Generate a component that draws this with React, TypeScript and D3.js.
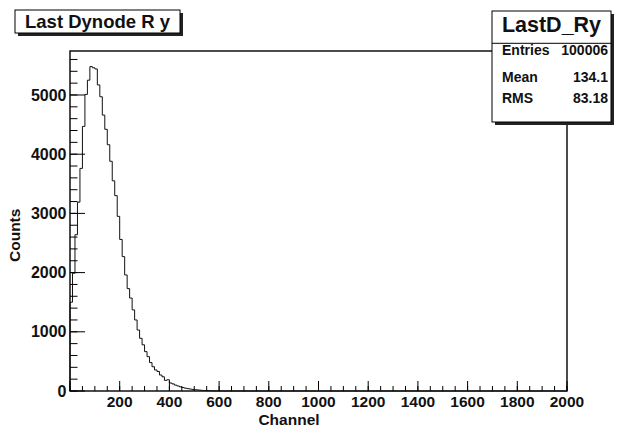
import React from "react";
import * as d3 from "d3";

// ---- data ----
const histName = "LastD_Ry";
const histTitle = "Last Dynode R y";
const xAxisTitle = "Channel";
const yAxisTitle = "Counts";
const binWidth = 10;
const xDomain = [0, 2000];
const yMax = 5743;
// counts per 10-channel bin, starting at channel 0
const counts = [
  1500, 1990, 2640, 3190, 3760, 4470, 5010, 5250, 5480, 5460,
  5440, 5170, 4970, 4660, 4420, 4160, 3880, 3550, 3300, 2950,
  2560, 2270, 1960, 1730, 1570, 1370, 1200, 1030, 890, 780,
  665, 580, 480, 410, 355, 330, 270, 240, 180, 190,
  135, 120, 100, 85, 70, 58, 48, 40, 33, 27,
  22, 18, 14, 10, 8, 6, 4, 3, 2, 1,
  1, 1,
];
const xMajorTicks = [0, 200, 400, 600, 800, 1000, 1200, 1400, 1600, 1800, 2000];
const xTickLabels = ["", "200", "400", "600", "800", "1000", "1200", "1400", "1600", "1800", "2000"];
const yMajorTicks = [0, 1000, 2000, 3000, 4000, 5000];
const yTickLabels = ["0", "1000", "2000", "3000", "4000", "5000"];
const statsLabels = ["Entries", "Mean", "RMS"];
const statsValues = ["100006", "134.1", "83.18"];

const FONT = "'Liberation Sans', Arial, Helvetica, sans-serif";

export default function App() {
  const W = 619, H = 429;
  const left = 70, right = 567, top = 51, bottom = 391;
  const x = d3.scaleLinear().domain(xDomain).range([left, right]);
  const y = d3.scaleLinear().domain([0, yMax]).range([bottom, top]);

  const pts: [number, number][] = [[x(0), y(0)]];
  counts.forEach((c, i) => {
    pts.push([x(i * binWidth), y(c)]);
    pts.push([x((i + 1) * binWidth), y(c)]);
  });
  pts.push([x(counts.length * binWidth), y(0)]);
  pts.push([x(xDomain[1]), y(0)]);
  const path = d3.line()(pts) || "";

  const xMinor = d3.range(xDomain[0], xDomain[1] + 1, 50);
  const yMinor = d3.range(0, yMax, 200);

  const sb = { x: 492, y: 11, w: 119, h: 111 };
  const tb = { x: 15, y: 10, w: 165, h: 23 };

  return (
    <svg width={W} height={H} style={{ position: "absolute", left: 0, top: 0, background: "#fff" }}
      fontFamily={FONT}>
      <rect x={0} y={0} width={W} height={H} fill="#fff" />
      {/* frame */}
      <rect x={left} y={top} width={right - left} height={bottom - top} fill="none" stroke="#000" strokeWidth={1.4} />
      {/* histogram */}
      <path d={path} fill="none" stroke="#111" strokeWidth={1} />
      {/* x ticks */}
      {xMinor.map((v) => (
        <line key={"xm" + v} x1={x(v)} x2={x(v)} y1={bottom} y2={bottom - 5} stroke="#000" strokeWidth={1} />
      ))}
      {xMajorTicks.map((v, i) => (
        <g key={"xM" + v}>
          <line x1={x(v)} x2={x(v)} y1={bottom} y2={bottom - 10} stroke="#000" strokeWidth={1} />
          <text x={x(v)} y={407} textAnchor="middle" fontSize={15.5} fontWeight="bold" fill="#111">{xTickLabels[i]}</text>
        </g>
      ))}
      {/* y ticks */}
      {yMinor.map((v) => (
        <line key={"ym" + v} x1={left} x2={left + 7.5} y1={y(v)} y2={y(v)} stroke="#000" strokeWidth={1} />
      ))}
      {yMajorTicks.map((v, i) => (
        <g key={"yM" + v}>
          <line x1={left} x2={left + 15} y1={y(v)} y2={y(v)} stroke="#000" strokeWidth={1} />
          <text x={66.5} y={y(v) + 5.7} textAnchor="end" fontSize={16} fontWeight="bold" fill="#111">{yTickLabels[i]}</text>
        </g>
      ))}
      {/* axis titles */}
      <text x={289} y={425} textAnchor="middle" fontSize={15.5} fontWeight="bold" fill="#111">{xAxisTitle}</text>
      <text transform="translate(20,262) rotate(-90)" textAnchor="start" fontSize={15.5} fontWeight="bold" fill="#111">{yAxisTitle}</text>
      {/* title box */}
      <rect x={tb.x + 3} y={tb.y + 3} width={tb.w} height={tb.h} fill="#222" />
      <rect x={tb.x} y={tb.y} width={tb.w} height={tb.h} fill="#fff" stroke="#000" strokeWidth={1} />
      <text x={tb.x + tb.w / 2} y={28.3} textAnchor="middle" fontSize={18.5} fontWeight="bold" fill="#111">{histTitle}</text>
      {/* stats box */}
      <rect x={sb.x + 3} y={sb.y + 3} width={sb.w} height={sb.h} fill="#222" />
      <rect x={sb.x} y={sb.y} width={sb.w} height={sb.h} fill="#fff" stroke="#000" strokeWidth={1} />
      <line x1={sb.x} x2={sb.x + sb.w} y1={43.3} y2={43.3} stroke="#000" strokeWidth={1} />
      <text x={sb.x + sb.w / 2} y={31.7} textAnchor="middle" fontSize={21.5} fontWeight="bold" fill="#111">{histName}</text>
      {statsLabels.map((l, i) => {
        const by = [55, 81.7, 103.3][i];
        return (
          <g key={l}>
            <text x={502} y={by} fontSize={14} fontWeight="bold" fill="#111">{l}</text>
            <text x={608} y={by} textAnchor="end" fontSize={14} fontWeight="bold" fill="#111">{statsValues[i]}</text>
          </g>
        );
      })}
    </svg>
  );
}
